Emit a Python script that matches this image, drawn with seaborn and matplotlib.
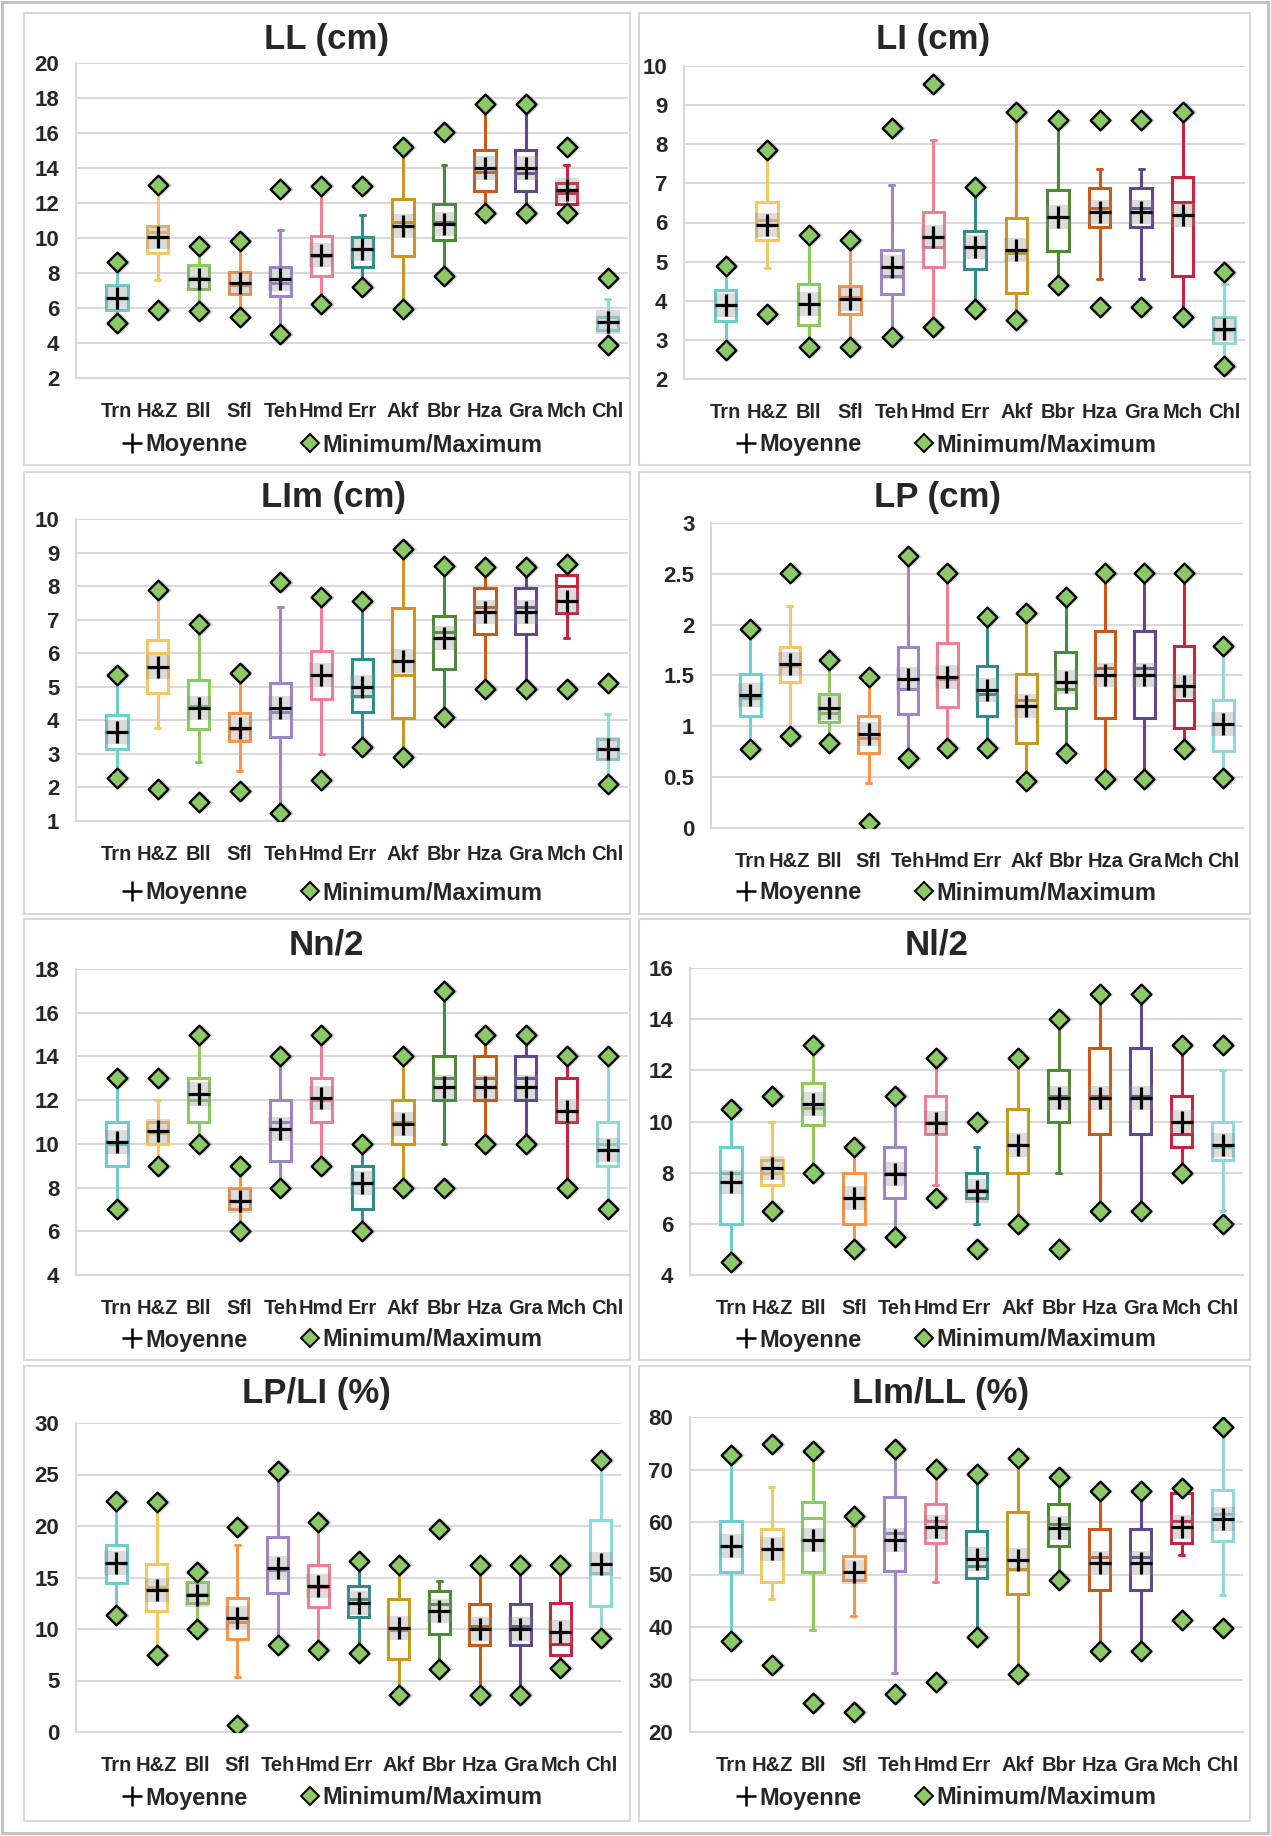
import numpy as np
import matplotlib
matplotlib.use('Agg')
import matplotlib.pyplot as plt
from matplotlib.lines import Line2D
from matplotlib.patches import Rectangle
from matplotlib.ticker import FuncFormatter
import seaborn as sns

sns.set_style("white")
plt.rcParams['font.family'] = ['Liberation Sans', 'DejaVu Sans']
plt.rcParams['font.weight'] = 'bold'

# ---- categories ----
SITES = ["Trn", "H&Z", "Bll", "Sfl", "Teh", "Hmd", "Err", "Akf", "Bbr", "Hza", "Gra", "Mch", "Chl"]
SITE_COLORS = ["#6CCFCB", "#F3C865", "#8CCB5E", "#F7964A", "#9B87C6", "#EF7F93", "#2F8C8C",
               "#C79A1E", "#4E8A35", "#C65A16", "#5E4A8A", "#C8243F", "#8FD9D9"]

# ---- LL (cm) ----
LL_MIN = [5.14, 5.9, 5.81, 5.47, 4.51, 6.25, 7.2, 5.96, 7.85, 11.43, 11.43, 11.43, 3.87]
LL_LOW = [5.14, 7.58, 5.81, 5.47, 4.51, 6.25, 7.2, 5.96, 7.85, 11.43, 11.43, 11.43, 3.87]
LL_Q1 = [5.9, 9.14, 7.09, 6.82, 6.7, 7.85, 8.34, 8.95, 9.87, 12.67, 12.67, 11.96, 4.72]
LL_MED = [6.55, 10.34, 7.7, 7.33, 7.43, 8.95, 9.37, 10.9, 10.9, 13.75, 13.7, 12.57, 5.18]
LL_Q3 = [7.33, 10.7, 8.46, 8.04, 8.34, 10.1, 10.06, 12.23, 11.96, 15.0, 15.0, 13.14, 5.49]
LL_HIGH = [8.61, 12.6, 9.56, 9.81, 10.48, 12.95, 11.33, 15.2, 14.19, 17.68, 17.68, 14.19, 6.53]
LL_MAX = [8.61, 13.05, 9.56, 9.81, 12.8, 12.95, 12.95, 15.2, 16.04, 17.68, 17.68, 15.2, 7.71]
LL_MEAN = [6.57, 10.06, 7.66, 7.4, 7.66, 9.0, 9.37, 10.7, 10.82, 14.0, 14.0, 12.72, 5.18]

# ---- LI (cm) ----
LI_MIN = [2.74, 3.66, 2.81, 2.83, 3.07, 3.32, 3.78, 3.51, 4.40, 3.85, 3.85, 3.59, 2.34]
LI_LOW = [2.74, 4.83, 2.81, 2.83, 3.07, 3.32, 3.78, 3.51, 4.40, 4.56, 4.56, 3.59, 2.34]
LI_Q1 = [3.49, 5.55, 3.38, 3.65, 4.17, 4.85, 4.80, 4.19, 5.26, 5.89, 5.89, 4.62, 2.91]
LI_MED = [3.90, 6.06, 3.92, 4.10, 4.63, 5.38, 5.37, 5.21, 6.15, 6.36, 6.36, 6.53, 3.25]
LI_Q3 = [4.28, 6.52, 4.42, 4.38, 5.30, 6.27, 5.79, 6.11, 6.83, 6.87, 6.87, 7.17, 3.59]
LI_HIGH = [4.90, 7.85, 5.68, 5.54, 6.96, 8.11, 6.92, 8.82, 8.62, 7.36, 7.36, 8.83, 4.42]
LI_MAX = [4.90, 7.85, 5.68, 5.54, 8.42, 9.53, 6.92, 8.82, 8.62, 8.62, 8.62, 8.83, 4.74]
LI_MEAN = [3.89, 5.94, 3.92, 4.05, 4.86, 5.62, 5.37, 5.30, 6.15, 6.26, 6.26, 6.18, 3.28]

# ---- LIm (cm) ----
LIM_MIN = [2.29, 1.96, 1.56, 1.89, 1.24, 2.21, 3.21, 2.91, 4.10, 4.93, 4.93, 4.93, 2.09]
LIM_LOW = [2.29, 3.78, 2.75, 2.49, 1.24, 2.99, 3.21, 2.91, 4.10, 4.93, 4.93, 6.44, 2.09]
LIM_Q1 = [3.16, 4.82, 3.75, 3.39, 3.51, 4.64, 4.25, 4.08, 5.52, 6.57, 6.57, 7.21, 2.85]
LIM_MED = [3.64, 6.00, 4.42, 3.73, 4.25, 5.35, 4.72, 5.36, 6.64, 7.39, 7.39, 7.99, 3.16]
LIM_Q3 = [4.15, 6.39, 5.20, 4.22, 5.12, 6.08, 5.84, 7.35, 7.11, 7.94, 7.94, 8.34, 3.45]
LIM_HIGH = [5.35, 7.89, 6.87, 5.40, 7.39, 7.67, 7.57, 9.12, 8.59, 8.57, 8.57, 8.67, 4.18]
LIM_MAX = [5.35, 7.89, 6.87, 5.40, 8.11, 7.67, 7.57, 9.12, 8.59, 8.57, 8.57, 8.67, 5.12]
LIM_MEAN = [3.64, 5.58, 4.38, 3.78, 4.38, 5.35, 5.00, 5.78, 6.44, 7.24, 7.24, 7.56, 3.16]

# ---- LP (cm) ----
LP_MIN = [0.78, 0.90, 0.84, 0.05, 0.69, 0.79, 0.79, 0.46, 0.74, 0.48, 0.48, 0.78, 0.49]
LP_LOW = [0.78, 0.90, 0.84, 0.44, 0.69, 0.79, 0.79, 0.46, 0.74, 0.48, 0.48, 0.78, 0.49]
LP_Q1 = [1.10, 1.44, 1.04, 0.74, 1.12, 1.19, 1.10, 0.84, 1.18, 1.08, 1.08, 0.98, 0.76]
LP_MED = [1.28, 1.59, 1.13, 0.89, 1.37, 1.47, 1.32, 1.26, 1.37, 1.57, 1.57, 1.26, 1.02]
LP_Q3 = [1.51, 1.78, 1.32, 1.10, 1.78, 1.82, 1.59, 1.51, 1.73, 1.94, 1.94, 1.79, 1.26]
LP_HIGH = [1.96, 2.18, 1.65, 1.49, 2.68, 2.51, 2.08, 2.11, 2.27, 2.51, 2.51, 2.51, 1.79]
LP_MAX = [1.96, 2.51, 1.65, 1.49, 2.68, 2.51, 2.08, 2.11, 2.27, 2.51, 2.51, 2.51, 1.79]
LP_MEAN = [1.31, 1.61, 1.18, 0.92, 1.47, 1.49, 1.36, 1.20, 1.44, 1.50, 1.50, 1.40, 1.02]

# ---- Nn/2 ----
NN_MIN = [7, 9, 10, 6, 8, 9, 6, 8, 8, 10, 10, 8, 7]
NN_LOW = [7, 9, 10, 6, 8, 9, 6, 8, 10, 10, 10, 8, 7]
NN_Q1 = [9, 10, 11, 7, 9.2, 11, 7, 10, 12, 12, 12, 11, 9]
NN_MED = [10, 10.5, 12, 7.4, 11, 12, 8.2, 11, 13, 13, 13, 11, 10]
NN_Q3 = [11, 11, 13, 8, 12, 13, 9, 12, 14, 14, 14, 13, 11]
NN_HIGH = [13, 12, 15, 9, 14, 15, 10, 14, 17, 15, 15, 14, 14]
NN_MAX = [13, 13, 15, 9, 14, 15, 10, 14, 17, 15, 15, 14, 14]
NN_MEAN = [10.1, 10.6, 12.3, 7.4, 10.7, 12.1, 8.2, 10.9, 12.6, 12.6, 12.6, 11.5, 9.7]

# ---- Nl/2 ----
NL_MIN = [4.5, 6.5, 8, 5, 5.5, 7, 5, 6, 5, 6.5, 6.5, 8, 6]
NL_LOW = [4.5, 6.5, 8, 5, 5.5, 7.5, 6, 6, 8, 6.5, 6.5, 8, 6.5]
NL_Q1 = [6, 7.5, 9.87, 6, 7, 9.5, 7, 8, 10, 9.5, 9.5, 9, 8.5]
NL_MED = [8, 8, 10.52, 7, 8, 10, 7.33, 9.1, 11, 11, 11, 9.5, 9]
NL_Q3 = [9, 8.5, 11.5, 8, 9, 11, 8, 10.5, 12, 12.87, 12.87, 11, 10]
NL_HIGH = [10.5, 10, 13, 9, 11, 12.5, 9, 12.5, 14, 15, 15, 13, 12]
NL_MAX = [10.5, 11, 13, 9, 11, 12.5, 10, 12.5, 14, 15, 15, 13, 13]
NL_MEAN = [7.65, 8.17, 10.7, 7, 7.95, 9.93, 7.3, 9.09, 10.9, 10.9, 10.9, 10, 9.1]

# ---- LP/LI (%) ----
LPLI_MIN = [11.4, 7.44, 10.0, 0.65, 8.4, 7.93, 7.67, 3.56, 6.15, 3.6, 3.6, 6.25, 9.16]
LPLI_LOW = [11.4, 7.44, 10.0, 5.34, 8.4, 7.93, 7.67, 3.56, 6.15, 3.6, 3.6, 6.25, 9.16]
LPLI_Q1 = [14.5, 11.75, 12.56, 9.0, 13.5, 12.1, 11.2, 7.1, 9.55, 8.4, 8.4, 7.48, 12.23]
LPLI_MED = [16.4, 14.1, 13.4, 10.7, 15.7, 14.1, 12.94, 9.87, 12.46, 10.3, 10.3, 8.5, 15.47]
LPLI_Q3 = [18.2, 16.3, 14.56, 13.0, 18.9, 16.2, 14.2, 12.9, 13.7, 12.43, 12.43, 12.5, 20.55]
LPLI_HIGH = [22.4, 22.3, 15.5, 18.2, 25.3, 20.4, 16.6, 16.2, 14.7, 16.25, 16.25, 16.25, 26.4]
LPLI_MAX = [22.4, 22.3, 15.5, 19.9, 25.3, 20.4, 16.6, 16.2, 19.7, 16.25, 16.25, 16.25, 26.4]
LPLI_MEAN = [16.44, 13.8, 13.3, 11.07, 15.95, 14.14, 12.5, 10.1, 11.75, 10.03, 10.03, 9.7, 16.34]

# ---- LIm/LL (%) ----
LIMLL_MIN = [37.4, 32.7, 25.5, 23.8, 27.3, 29.6, 38.1, 31.1, 49.0, 35.4, 35.4, 41.3, 39.9]
LIMLL_LOW = [37.4, 45.3, 39.5, 42.1, 31.3, 48.6, 38.1, 31.1, 49.0, 35.4, 35.4, 53.7, 46.1]
LIMLL_Q1 = [50.55, 48.5, 50.55, 49.0, 50.7, 56.0, 49.3, 46.3, 55.5, 47.0, 47.0, 56.0, 56.3]
LIMLL_MED = [55.4, 54.9, 60.7, 50.5, 57.9, 60.1, 51.6, 51.0, 59.6, 53.3, 53.3, 60.1, 61.5]
LIMLL_Q3 = [60.2, 58.7, 63.9, 53.5, 64.7, 63.4, 58.2, 62.0, 63.4, 58.6, 58.6, 65.5, 66.1]
LIMLL_HIGH = [72.8, 66.6, 73.6, 59.3, 73.9, 70.1, 69.2, 72.2, 68.5, 65.9, 65.9, 66.5, 78.1]
LIMLL_MAX = [72.8, 74.85, 73.6, 61.2, 73.9, 70.1, 69.2, 72.2, 68.5, 65.9, 65.9, 66.5, 78.1]
LIMLL_MEAN = [55.4, 54.8, 56.5, 50.5, 56.5, 59.1, 53.0, 52.8, 58.8, 52.1, 52.1, 59.0, 60.6]

# title, stats, (ymin, ymax, step), plot box px (l, t, r, b), title xy px, legend xy px
PANELS = [
    ("LL (cm)", (LL_MIN, LL_LOW, LL_Q1, LL_MED, LL_Q3, LL_HIGH, LL_MAX, LL_MEAN),
     (2, 20, 2), (76, 63, 628, 378), (326, 40), (332, 445)),
    ("LI (cm)", (LI_MIN, LI_LOW, LI_Q1, LI_MED, LI_Q3, LI_HIGH, LI_MAX, LI_MEAN),
     (2, 10, 1), (684, 66, 1245, 379), (933, 40), (946, 445)),
    ("LIm (cm)", (LIM_MIN, LIM_LOW, LIM_Q1, LIM_MED, LIM_Q3, LIM_HIGH, LIM_MAX, LIM_MEAN),
     (1, 10, 1), (76, 519, 628, 821), (334, 498), (332, 893)),
    ("LP (cm)", (LP_MIN, LP_LOW, LP_Q1, LP_MED, LP_Q3, LP_HIGH, LP_MAX, LP_MEAN),
     (0, 3, 0.5), (711, 523, 1243, 828), (937, 498), (946, 893)),
    ("Nn/2", (NN_MIN, NN_LOW, NN_Q1, NN_MED, NN_Q3, NN_HIGH, NN_MAX, NN_MEAN),
     (4, 18, 2), (76, 969, 628, 1275), (326, 945), (332, 1340)),
    ("Nl/2", (NL_MIN, NL_LOW, NL_Q1, NL_MED, NL_Q3, NL_HIGH, NL_MAX, NL_MEAN),
     (4, 16, 2), (690, 968, 1243, 1275), (937, 945), (946, 1340)),
    ("LP/LI (%)", (LPLI_MIN, LPLI_LOW, LPLI_Q1, LPLI_MED, LPLI_Q3, LPLI_HIGH, LPLI_MAX, LPLI_MEAN),
     (0, 30, 5), (76, 1423, 621, 1732), (316, 1393), (332, 1798)),
    ("LIm/LL (%)", (LIMLL_MIN, LIMLL_LOW, LIMLL_Q1, LIMLL_MED, LIMLL_Q3, LIMLL_HIGH, LIMLL_MAX, LIMLL_MEAN),
     (20, 80, 10), (690, 1417, 1243, 1732), (941, 1393), (946, 1798)),
]

W, H = 1271, 1836
GRID = "#D9D9D9"
DIAMOND = "#8BC866"

fig = plt.figure(figsize=(W / 100, H / 100), dpi=100)
fig.patch.set_facecolor("white")

# chart frames
fig.add_artist(Rectangle((2 / W, 1 - 1833 / H), 1266 / W, 1831 / H, transform=fig.transFigure,
                         fill=False, edgecolor="#BFBFBF", linewidth=2))
col_x = [(24, 630), (639, 1250)]
row_y = [(13, 465), (472, 914), (919, 1360), (1366, 1821)]
for (y0, y1) in row_y:
    for (x0, x1) in col_x:
        fig.add_artist(Rectangle((x0 / W, 1 - y1 / H), (x1 - x0) / W, (y1 - y0) / H,
                                 transform=fig.transFigure, fill=False,
                                 edgecolor=GRID, linewidth=1.5))

positions = np.arange(1, len(SITES) + 1)


def px_axes(l, t, r, b):
    return fig.add_axes([l / W, 1 - b / H, (r - l) / W, (b - t) / H])


for title, stats, (ymin, ymax, step), box, txy, lxy in PANELS:
    vmin, low, q1, med, q3, high, vmax, mean = stats
    ax = px_axes(*box)
    ax.set_facecolor("white")
    ax.set_axisbelow(True)

    bstats = [dict(whislo=low[i], q1=q1[i], med=med[i], q3=q3[i], whishi=high[i],
                   fliers=[], label=SITES[i]) for i in range(len(SITES))]
    art = ax.bxp(bstats, positions=positions, widths=0.52, capwidths=0.12,
                 patch_artist=True, showfliers=False, manage_ticks=False)
    for i, c in enumerate(SITE_COLORS):
        art["boxes"][i].set(facecolor="white", edgecolor=c, linewidth=2.2, zorder=2)
        art["medians"][i].set(color=c, linewidth=2.2, zorder=3)
        for ln in art["whiskers"][2 * i:2 * i + 2] + art["caps"][2 * i:2 * i + 2]:
            ln.set(color=c, linewidth=2.2, zorder=1.8)

    # soft grey shading behind the mean crosses
    sns.scatterplot(x=positions, y=mean, marker="s", s=280, color="#8C8C8C", alpha=0.3,
                    linewidth=0, legend=False, ax=ax, zorder=3.5)
    sns.scatterplot(x=positions, y=mean, marker="+", s=240, color="black", linewidth=2.3,
                    legend=False, ax=ax, zorder=4)
    # min / max diamonds
    ext_x = np.concatenate([positions, positions])
    ext_y = np.concatenate([vmin, vmax])
    sns.scatterplot(x=ext_x + 0.07, y=ext_y, marker="D", s=110, color="#7F7F7F", alpha=0.35,
                    linewidth=0, legend=False, ax=ax, zorder=4.5)
    sns.scatterplot(x=ext_x, y=ext_y, marker="D", s=100, color=DIAMOND, edgecolor="black",
                    linewidth=1.7, legend=False, ax=ax, zorder=5)

    ax.set_xlim(0, 13.5)
    ax.set_ylim(ymin, ymax)
    ax.set_yticks(np.arange(ymin, ymax + step / 2, step))
    ax.yaxis.set_major_formatter(FuncFormatter(lambda v, _: f"{v:g}"))
    ax.set_xticks(positions)
    ax.set_xticklabels(SITES)
    ax.set_xticks([5, 10], minor=True)
    ax.grid(axis="y", which="major", color=GRID, linewidth=1.5)
    ax.grid(axis="x", which="minor", color=GRID, linewidth=1.5)
    ax.tick_params(axis="both", which="both", length=0)
    ax.tick_params(axis="y", pad=12, labelsize=16)
    ax.tick_params(axis="x", pad=17, labelsize=14.5)
    for lab in ax.get_xticklabels() + ax.get_yticklabels():
        lab.set_fontweight("bold")
    for side in ["top", "right"]:
        ax.spines[side].set_visible(False)
    for side in ["left", "bottom"]:
        ax.spines[side].set_color(GRID)
        ax.spines[side].set_linewidth(1.5)

    fig.text(txy[0] / W, 1 - txy[1] / H, title, ha="center", va="center",
             fontsize=25, fontweight="bold")

    handles = [
        Line2D([], [], marker="+", color="black", linestyle="None", markersize=15, mew=1.8),
        Line2D([], [], marker="D", markerfacecolor=DIAMOND, markeredgecolor="black",
               linestyle="None", markersize=9.5, mew=1.4),
    ]
    ax.legend(handles, ["Moyenne", "Minimum/Maximum"], loc="center",
              bbox_to_anchor=(lxy[0] / W, 1 - lxy[1] / H), bbox_transform=fig.transFigure,
              ncol=2, frameon=False, handlelength=0.9, handletextpad=0.1,
              columnspacing=2.2, prop={"size": 17, "weight": "bold"})

fig.savefig("out.png", dpi=100)
